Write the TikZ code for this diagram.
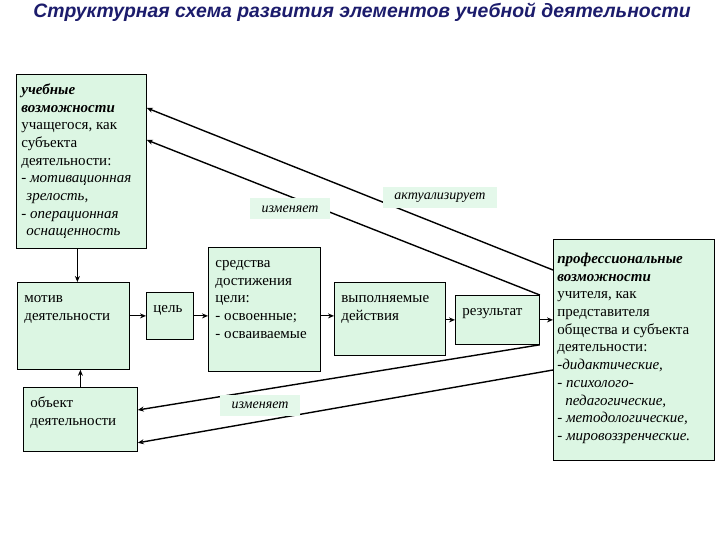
\documentclass[tikz,border=0pt]{standalone}
\usepackage{fontspec}
\setmainfont{Liberation Serif}
\newfontfamily\titlefont{Liberation Sans}
\usetikzlibrary{arrows.meta,calc}
\definecolor{sboxfill}{HTML}{DCF6E3}
\definecolor{slabelfill}{HTML}{E4F8EA}
\definecolor{stitle}{HTML}{1C1C6C}
\tikzset{sbox/.style={rectangle, draw=black, line width=0.8bp, fill=sboxfill, anchor=north west, inner xsep=7bp, inner ysep=5bp, font=\fontsize{15bp}{17.7bp}\selectfont}}
\tikzset{slabel/.style={rectangle, fill=slabelfill, minimum height=21bp, inner xsep=6bp, font=\fontsize{14bp}{17.7bp}\selectfont\itshape}}
\tikzset{sarrow/.style={-{Stealth[length=6bp,width=5bp]}, line width=1.1bp}}
\tikzset{slong/.style={sarrow, line width=1.4bp}}

\begin{document}
\begin{tikzpicture}[x=1bp,y=-1bp]
  \fill[white] (0,0) rectangle (720,540);
  \useasboundingbox (0,0) rectangle (720,540);

  \node[font=\titlefont\bfseries\itshape\fontsize{19.4bp}{22bp}\selectfont, text=stitle] (title) at (362,12) {Структурная схема развития элементов учебной деятельности};

  \node[sbox, inner xsep=5bp] (ucheb) at (16,74) {\parbox[t][164bp][t]{120bp}{\rule{0pt}{15bp}\textbf{\textit{учебные}}\\\textbf{\textit{возможности}}\\учащегося, как\\субъекта\\деятельности:\\\textit{- мотивационная}\\\hspace*{5bp}\textit{зрелость,}\\\textit{- операционная}\\\hspace*{5bp}\textit{оснащенность}}};
  \node[sbox] (motiv) at (17,282) {\parbox[t][77bp][t]{98bp}{\rule{0pt}{15bp}мотив\\деятельности}};
  \node[sbox] (cel) at (146,292) {\parbox[t][37bp][t]{33bp}{\rule{0pt}{15bp}цель}};
  \node[sbox] (obj) at (23,387) {\parbox[t][54bp][t]{100bp}{\rule{0pt}{15bp}объект\\деятельности}};
  \node[sbox] (sredstva) at (208,247) {\parbox[t][114bp][t]{98bp}{\rule{0pt}{15bp}средства\\достижения\\цели:\\- освоенные;\\- осваиваемые}};
  \node[sbox] (vypoln) at (334,282) {\parbox[t][63bp][t]{97bp}{\rule{0pt}{15bp}выполняемые\\действия}};
  \node[sbox] (rezult) at (455,295) {\parbox[t][39bp][t]{70bp}{\rule{0pt}{15bp}результат}};
  \node[sbox, inner xsep=4bp] (prof) at (553,239) {\parbox[t][211bp][t]{153bp}{\rule{0pt}{19bp}\textbf{\textit{профессиональные}}\\\textbf{\textit{возможности}}\\учителя, как\\представителя\\общества и субъекта\\деятельности:\\\textit{-дидактические,}\\\textit{- психолого-}\\\hspace*{8bp}\textit{педагогические,}\\\textit{- методологические,}\\\textit{- мировоззренческие.}}};

  \draw[sarrow] ($(ucheb.south)+(-4,0)$) -- ($(ucheb.south |- motiv.north)+(-4,0)$);
  \draw[sarrow] (obj.north) -- (obj.north |- motiv.south);
  \draw[sarrow] (motiv.east |- cel.west) -- (cel.west);
  \draw[sarrow] (cel.east) -- (cel.east -| sredstva.west);
  \draw[sarrow] ($(sredstva.east |- vypoln.west)+(0,-3)$) -- ($(vypoln.west)+(0,-3)$);
  \draw[sarrow] (vypoln.east |- rezult.west) -- (rezult.west);
  \draw[sarrow] (rezult.east) -- (rezult.east -| prof.west);

  \draw[slong] ($(prof.north west)+(0,31)$) -- ($(ucheb.north east)+(0,34)$);
  \draw[slong] (rezult.north east) -- ($(ucheb.north east)+(0,66)$);
  \draw[slong] (rezult.south east) -- ($(obj.north east)+(0,23)$);
  \draw[slong] ($(prof.north west)+(0,131)$) -- ($(obj.south east)+(0,-9)$);

  \node[slabel, minimum width=80bp] (izm1) at (290,209) {изменяет};
  \node[slabel, minimum width=114bp] (akt) at (440,198) {актуализирует};
  \node[slabel, minimum width=80bp] (izm2) at (260,405) {изменяет};
\end{tikzpicture}
\end{document}
